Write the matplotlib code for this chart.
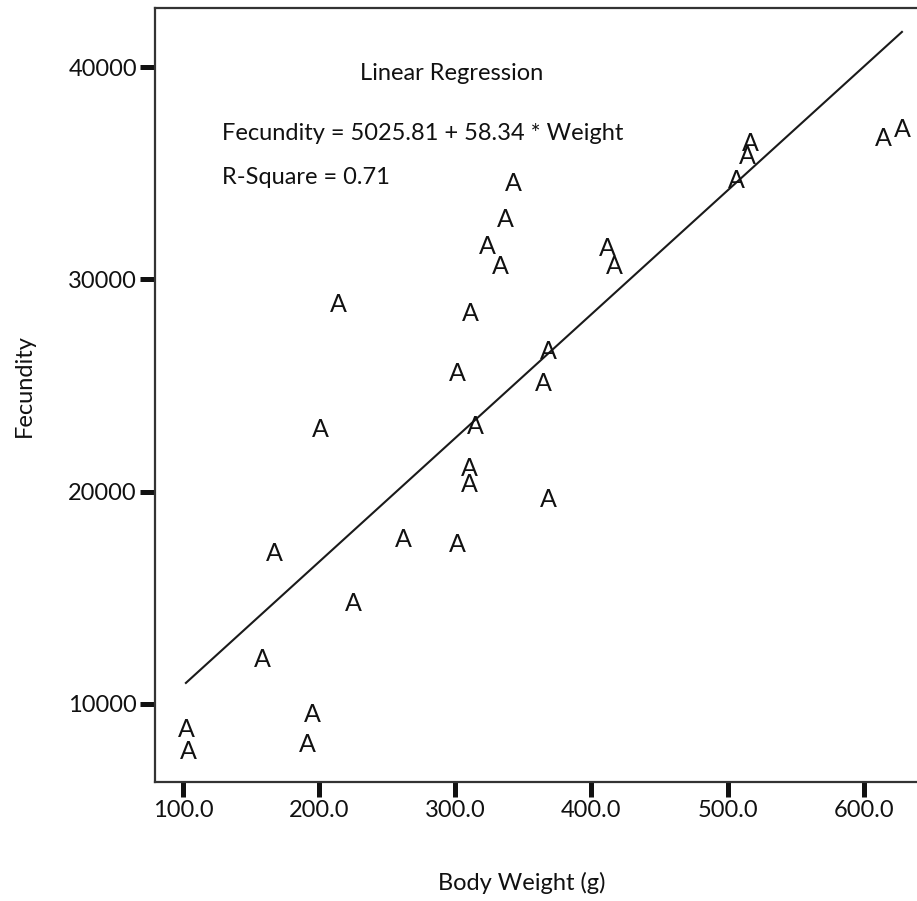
import matplotlib
matplotlib.use("Agg")
import matplotlib.pyplot as plt

# ── DATA ──────────────────────────────────────────────────────────────────────
body_weight = [102.2, 103.7, 158.0, 166.9, 194.9, 191.2, 200.7, 214.0, 261.8, 225.0,
               301.5, 314.7, 310.3, 310.3, 368.4, 342.6, 336.8, 323.5, 333.1, 311.0,
               301.5, 368.4, 364.7, 411.8, 416.9, 516.9, 514.7, 506.6, 614.7, 628.0]
fecundity = [8868, 7830, 12170, 17170, 9575, 8160, 23019, 28915, 17830, 14811,
             17594, 23160, 21180, 20425, 19717, 34623, 32925, 31651, 30708, 28491,
             25660, 26698, 25189, 31557, 30708, 36510, 35896, 34764, 36745, 37170]

intercept, slope, r_square = 5025.81, 58.34, 0.71

x_ticks = [100, 200, 300, 400, 500, 600]
x_ticklabels = ["100.0", "200.0", "300.0", "400.0", "500.0", "600.0"]
y_ticks = [10000, 20000, 30000, 40000]
y_ticklabels = ["10000", "20000", "30000", "40000"]

plt.rcParams["font.family"] = ["Lato", "DejaVu Sans"]
INK = "#111111"
FS = 17

# ── FIGURE ────────────────────────────────────────────────────────────────────
W, H = 917, 901
fig = plt.figure(figsize=(W / 100, H / 100), dpi=100, facecolor="white")
ax = fig.add_axes([155 / W, 1 - 782 / H, (921 - 155) / W, (782 - 8) / H])

ax.set_xlim(79.5, 642)
ax.set_ylim(6320, 42790)

# points drawn as letter "A" (SPSS-style case markers)
for xv, yv in zip(body_weight, fecundity):
    ax.text(xv, yv, "A", ha="center", va="center_baseline", fontsize=FS + 1,
            color=INK, zorder=3)

# regression line over the data range
xmin, xmax = min(body_weight), max(body_weight)
ax.plot([xmin, xmax], [intercept + slope * xmin, intercept + slope * xmax],
        color="#1a1a1a", linewidth=1.5, zorder=2)

# ── AXES STYLE ────────────────────────────────────────────────────────────────
for s in ax.spines.values():
    s.set_linewidth(1.6)
    s.set_color("#333333")
ax.spines["right"].set_visible(False)

ax.set_xticks(x_ticks)
ax.set_xticklabels(x_ticklabels)
ax.set_yticks(y_ticks)
ax.set_yticklabels(y_ticklabels)
ax.tick_params(direction="out", length=11, width=3.6, color=INK,
               labelsize=FS, labelcolor=INK, pad=2)

# axis labels
fig.text(522 / W, 1 - 883 / H, "Body Weight (g)", ha="center", va="center",
         fontsize=FS, color=INK)
fig.text(24 / W, 1 - 386 / H, "Fecundity", ha="center", va="center",
         rotation=90, fontsize=FS, color=INK)

# ── ANNOTATIONS ───────────────────────────────────────────────────────────────
ax_w, ax_h = 921 - 155, 782 - 8
ax.text((452 - 155) / ax_w, (782 - 72) / ax_h, "Linear Regression",
        transform=ax.transAxes, ha="center", va="center_baseline",
        fontsize=FS, color=INK)
ax.text((222 - 155) / ax_w, (782 - 132) / ax_h,
        f"Fecundity = {intercept:.2f} + {slope:.2f} * Weight",
        transform=ax.transAxes, ha="left", va="center_baseline",
        fontsize=FS, color=INK)
ax.text((222 - 155) / ax_w, (782 - 175) / ax_h, f"R-Square = {r_square:.2f}",
        transform=ax.transAxes, ha="left", va="center_baseline",
        fontsize=FS, color=INK)

fig.savefig("out.png", dpi=100, facecolor="white")
